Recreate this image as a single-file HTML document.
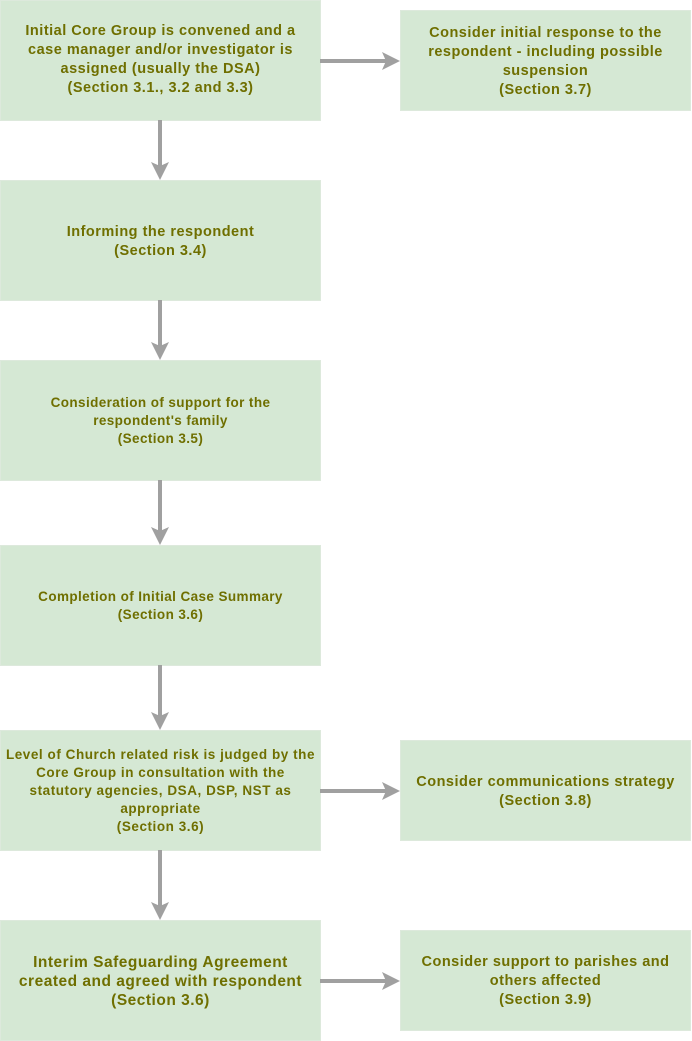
<!DOCTYPE html>
<html><head><style>
body{margin:0;width:692px;height:1041px;background:#fff;position:relative;overflow:hidden;font-family:"Liberation Sans",Arial,sans-serif;}
.b{position:absolute;background:#d5e8d4;border:1px solid #dde9dc;box-sizing:border-box;display:flex;align-items:center;justify-content:center;text-align:center;color:#6f6f00;font-weight:bold;font-size:14.5px;line-height:19px;padding:0;letter-spacing:0.5px;white-space:nowrap;}
.s{font-size:13.5px;line-height:18px;letter-spacing:0.4px;}
svg{position:absolute;left:0;top:0;}
</style></head><body>
<div class="b" style="left:0;top:0;width:321px;height:121px;padding-bottom:1px">Initial Core Group is convened and a<br>case manager and/or investigator is<br>assigned (usually the DSA)<br>(Section 3.1., 3.2 and 3.3)</div>
<div class="b" style="left:400px;top:10px;width:291px;height:101px;padding-top:2px">Consider initial response to the<br>respondent - including possible<br>suspension<br>(Section 3.7)</div>
<div class="b" style="left:0;top:180px;width:321px;height:121px;padding-top:2px">Informing the respondent<br>(Section 3.4)</div>
<div class="b s" style="left:0;top:360px;width:321px;height:121px">Consideration of support for the<br>respondent's family<br>(Section 3.5)</div>
<div class="b s" style="left:0;top:545px;width:321px;height:121px">Completion of Initial Case Summary<br>(Section 3.6)</div>
<div class="b s" style="left:0;top:730px;width:321px;height:121px;letter-spacing:0.55px">Level of Church related risk is judged by the<br>Core Group in consultation with the<br>statutory agencies, DSA, DSP, NST as<br>appropriate<br>(Section 3.6)</div>
<div class="b" style="left:400px;top:740px;width:291px;height:101px;padding-top:2px">Consider communications strategy<br>(Section 3.8)</div>
<div class="b" style="left:0;top:920px;width:321px;height:121px;font-size:15.5px;padding-top:2px">Interim Safeguarding Agreement<br>created and agreed with respondent<br>(Section 3.6)</div>
<div class="b" style="left:400px;top:930px;width:291px;height:101px;padding-top:2px">Consider support to parishes and<br>others affected<br>(Section 3.9)</div>
<svg width="692" height="1041">
<g stroke="#a0a0a0" stroke-width="4" fill="#a0a0a0">
<line x1="320" y1="61" x2="388" y2="61"/><polygon points="400,61 382,52 386,61 382,70" stroke="none"/>
<line x1="160" y1="120" x2="160" y2="168"/><polygon points="160,180 151,162 160,166 169,162" stroke="none"/>
<line x1="160" y1="300" x2="160" y2="348"/><polygon points="160,360 151,342 160,346 169,342" stroke="none"/>
<line x1="160" y1="480" x2="160" y2="533"/><polygon points="160,545 151,527 160,531 169,527" stroke="none"/>
<line x1="160" y1="665" x2="160" y2="718"/><polygon points="160,730 151,712 160,716 169,712" stroke="none"/>
<line x1="320" y1="791" x2="388" y2="791"/><polygon points="400,791 382,782 386,791 382,800" stroke="none"/>
<line x1="160" y1="850" x2="160" y2="908"/><polygon points="160,920 151,902 160,906 169,902" stroke="none"/>
<line x1="320" y1="981" x2="388" y2="981"/><polygon points="400,981 382,972 386,981 382,990" stroke="none"/>
</g></svg>
</body></html>
